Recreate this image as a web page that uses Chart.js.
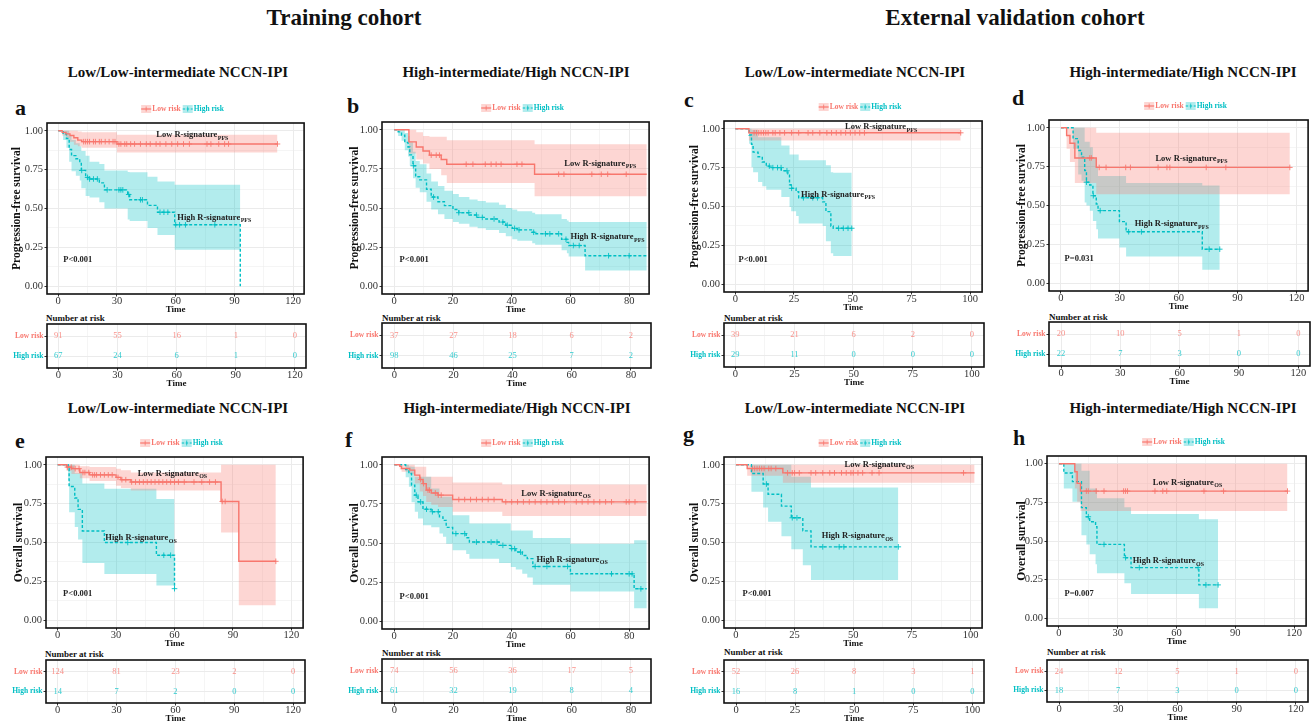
<!DOCTYPE html>
<html>
<head>
<meta charset="utf-8">
<title>Kaplan-Meier curves by R-signature</title>
<script src="https://cdn.jsdelivr.net/npm/chart.js@4.4.1/dist/chart.umd.min.js"></script>
<style>
  html, body { margin: 0; padding: 0; background: #fff; }
  body { position: relative; width: 1314px; height: 724px; overflow: hidden;
         font-family: "Liberation Serif", "Times New Roman", serif; }
  .txt { position: absolute; font-weight: bold; color: #111; white-space: nowrap; line-height: 1; }
  canvas { position: absolute; }
</style>
</head>
<body>
<script>
// ---- tick labels ----
const ticks120 = [0, 30, 60, 90, 120];
const ticks80 = [0, 20, 40, 60, 80];
const ticks100 = [0, 25, 50, 75, 100];
const yTicks = [0, 0.25, 0.5, 0.75, 1];
const riskRows = ["Low risk", "High risk"];

// ---- panel a (training, low NCCN-IPI, PFS) ----
const aLowT = [0, 2, 4, 6, 8, 10, 12, 30, 112];
const aLowS = [1, 0.99, 0.98, 0.97, 0.955, 0.94, 0.93, 0.915, 0.915];
const aLowHi = [1, 1, 1, 1, 1, 0.995, 0.99, 0.975, 0.975];
const aLowLo = [1, 0.97, 0.95, 0.93, 0.91, 0.9, 0.89, 0.86, 0.86];
const aLowC = [13, 14, 15, 16, 18, 19, 21, 22, 24, 26, 28, 29, 31, 32, 34, 35, 37, 39, 42, 45, 47, 50, 52, 55, 58, 61, 64, 67, 76, 78, 82, 85, 87, 112];
const aHighT = [0, 2.5, 4.2, 5.6, 6.8, 9, 11, 11.8, 14, 16, 21, 23.6, 35.5, 36.5, 45.6, 50.7, 59.5, 93];
const aHighS = [1, 0.98, 0.95, 0.88, 0.84, 0.82, 0.79, 0.745, 0.70, 0.69, 0.665, 0.62, 0.59, 0.556, 0.52, 0.476, 0.395, 0];
const aHighHi = [1, 1, 1, 0.97, 0.94, 0.92, 0.9, 0.87, 0.84, 0.8, 0.786, 0.745, 0.735, 0.733, 0.705, 0.673, 0.652, 0.652];
const aHighLo = [1, 0.94, 0.89, 0.8, 0.74, 0.71, 0.68, 0.63, 0.58, 0.57, 0.54, 0.5, 0.43, 0.42, 0.375, 0.33, 0.235, 0.235];
const aHighC = [12, 15, 16, 18, 20, 25, 31, 32, 33, 36, 42, 43, 52, 54, 56, 60, 62, 65, 80];
const aRiskLow = [91, 55, 16, 1, 0];
const aRiskHigh = [67, 24, 6, 1, 0];

// ---- panel b (training, high NCCN-IPI, PFS) ----
const bLowT = [0, 5, 7.5, 9.8, 12, 16, 17.9, 47.8, 86];
const bLowS = [1, 0.923, 0.89, 0.865, 0.838, 0.81, 0.78, 0.716, 0.716];
const bLowHi = [1, 1, 0.985, 0.96, 0.955, 0.955, 0.934, 0.908, 0.908];
const bLowLo = [1, 0.848, 0.81, 0.784, 0.75, 0.71, 0.66, 0.575, 0.575];
const bLowC = [12.6, 14.3, 15.4, 24.5, 26.8, 31, 33, 34.7, 36.4, 41.8, 43.5, 56, 57.8, 67.3, 70.5, 72.7, 79];
const bHighT = [0, 1.35, 2.5, 3.6, 4.7, 5.3, 6.4, 7.3, 8.7, 11, 12.6, 14.9, 17.1, 20, 22, 25.6, 28.4, 31.2, 35.7, 38, 40.2, 41.9, 47, 48, 57, 58.8, 59.4, 65, 86];
const bHighS = [1, 0.987, 0.966, 0.92, 0.89, 0.84, 0.77, 0.70, 0.68, 0.62, 0.57, 0.54, 0.515, 0.49, 0.47, 0.455, 0.44, 0.43, 0.41, 0.39, 0.37, 0.36, 0.345, 0.335, 0.30, 0.28, 0.26, 0.195, 0.195];
const bHighHi = [1, 1, 1, 0.98, 0.96, 0.92, 0.86, 0.8, 0.78, 0.72, 0.67, 0.64, 0.61, 0.59, 0.57, 0.555, 0.545, 0.535, 0.52, 0.5, 0.49, 0.48, 0.47, 0.46, 0.43, 0.42, 0.41, 0.41, 0.41];
const bHighLo = [1, 0.96, 0.93, 0.87, 0.83, 0.77, 0.69, 0.63, 0.6, 0.54, 0.49, 0.46, 0.43, 0.41, 0.4, 0.38, 0.37, 0.36, 0.34, 0.32, 0.3, 0.29, 0.275, 0.265, 0.23, 0.21, 0.19, 0.1, 0.1];
const bHighC = [6.5, 13.4, 22, 25.4, 28, 30, 34, 37, 38.5, 41, 42.5, 47.5, 51.5, 53, 56, 58.5, 61, 63, 73, 80];
const bRiskLow = [37, 27, 18, 6, 2];
const bRiskHigh = [98, 46, 25, 7, 2];

// ---- panel c (validation, low NCCN-IPI, PFS) ----
const cLowT = [0, 5.8, 96];
const cLowS = [1, 0.974, 0.974];
const cLowHi = [1, 1, 1];
const cLowLo = [1, 0.925, 0.925];
const cLowC = [8, 9, 10, 11, 12, 13, 14, 16, 17, 19, 21, 24, 27, 31, 33, 36, 39, 41, 43, 45, 47, 49, 51, 53, 55, 96];
const cHighT = [0, 5.9, 6.9, 7.6, 9.7, 11.5, 13.2, 14.6, 19.6, 22.4, 23.1, 23.8, 25.9, 27, 37.2, 38.6, 40.7, 41.7, 49.6];
const cHighS = [1, 0.96, 0.9, 0.85, 0.82, 0.786, 0.76, 0.75, 0.73, 0.71, 0.64, 0.617, 0.595, 0.556, 0.53, 0.467, 0.375, 0.36, 0.36];
const cHighHi = [1, 1, 0.994, 0.994, 0.946, 0.946, 0.946, 0.946, 0.893, 0.893, 0.834, 0.834, 0.834, 0.797, 0.797, 0.765, 0.72, 0.717, 0.717];
const cHighLo = [1, 0.904, 0.752, 0.72, 0.657, 0.63, 0.608, 0.608, 0.561, 0.561, 0.497, 0.47, 0.439, 0.39, 0.375, 0.276, 0.2, 0.182, 0.182];
const cHighC = [14.5, 16, 18, 19.5, 22, 24, 29, 33, 35, 44, 46, 48, 49.6];
const cRiskLow = [39, 21, 6, 2, 0];
const cRiskHigh = [29, 11, 0, 0, 0];

// ---- panel d (validation, high NCCN-IPI, PFS) ----
const dLowT = [0, 2.9, 4.6, 7.1, 18, 116.6];
const dLowS = [1, 0.95, 0.9, 0.806, 0.745, 0.745];
const dLowHi = [1, 1, 1, 1, 0.968, 0.968];
const dLowLo = [1, 0.865, 0.78, 0.645, 0.572, 0.572];
const dLowC = [14.7, 15.5, 19.5, 23, 33, 35.4, 49.5, 54, 55.5, 74, 84, 116.6];
const dHighT = [0, 6.2, 8.8, 10.5, 12.1, 13, 14.7, 16.3, 18, 18.9, 29.8, 33.2, 72, 80.9];
const dHighS = [1, 0.93, 0.854, 0.81, 0.725, 0.65, 0.632, 0.563, 0.51, 0.467, 0.396, 0.331, 0.219, 0.219];
const dHighHi = [1, 1, 1, 1, 0.91, 0.91, 0.875, 0.8, 0.75, 0.69, 0.69, 0.645, 0.628, 0.628];
const dHighLo = [1, 0.865, 0.7, 0.66, 0.52, 0.5, 0.467, 0.4, 0.348, 0.288, 0.23, 0.172, 0.086, 0.086];
const dHighC = [13, 16.5, 20, 34.5, 41, 75.5, 80.9];
const dRiskLow = [20, 10, 5, 1, 0];
const dRiskHigh = [22, 7, 3, 0, 0];

// ---- panel e (training, low NCCN-IPI, OS) ----
const eLowT = [0, 4.6, 7.1, 11.4, 16.4, 30, 32.5, 37.6, 83.9, 93, 112];
const eLowS = [1, 0.985, 0.975, 0.95, 0.935, 0.919, 0.904, 0.889, 0.764, 0.379, 0.379];
const eLowHi = [1, 1, 1, 0.99, 0.985, 0.975, 0.965, 0.95, 1, 1, 1];
const eLowLo = [1, 0.96, 0.94, 0.914, 0.895, 0.865, 0.85, 0.835, 0.565, 0.096, 0.096];
const eLowC = [5, 7, 9, 11, 13, 14, 16, 18, 19, 20, 22, 24, 26, 28, 31, 33, 35, 38, 40, 42, 44, 46, 48, 50, 52, 54, 56, 58, 60, 62, 65, 70, 74, 78, 81, 84.5, 86, 112];
const eHighT = [0, 5.4, 5.9, 8.8, 10.5, 12.7, 24, 50.7, 60];
const eHighS = [1, 0.974, 0.86, 0.786, 0.713, 0.574, 0.5, 0.418, 0.203];
const eHighHi = [1, 1, 1, 0.946, 0.946, 0.88, 0.845, 0.78, 0.78];
const eHighLo = [1, 0.9, 0.694, 0.6, 0.52, 0.368, 0.298, 0.223, 0.223];
const eHighC = [36, 54.5, 58, 60];
const eRiskLow = [124, 81, 23, 2, 0];
const eRiskHigh = [14, 7, 2, 0, 0];

// ---- panel f (training, high NCCN-IPI, OS) ----
const fLowT = [0, 1.9, 2.5, 5.3, 7, 8.7, 9.8, 10.9, 12.6, 14.9, 19.9, 36.8, 86];
const fLowS = [1, 0.99, 0.976, 0.966, 0.934, 0.906, 0.88, 0.838, 0.82, 0.806, 0.778, 0.763, 0.763];
const fLowHi = [1, 1, 1, 1, 0.987, 0.987, 0.987, 0.923, 0.923, 0.923, 0.887, 0.874, 0.874];
const fLowLo = [1, 0.97, 0.955, 0.94, 0.88, 0.83, 0.8, 0.763, 0.745, 0.73, 0.7, 0.673, 0.673];
const fLowC = [9, 10, 11.5, 12, 14, 15, 16, 22, 24, 26, 28, 30, 32, 34, 38, 40, 42, 44, 46, 48, 50, 52, 54, 56, 58, 62, 64, 66, 68, 70, 72, 74, 79, 80, 82];
const fHighT = [0, 3.9, 5, 5.9, 7, 8.1, 9.8, 12.6, 15.4, 16.6, 17.7, 19.9, 24.5, 25.6, 35.7, 39.7, 41.4, 43.6, 45.3, 47.2, 60, 81.7, 86];
const fHighS = [1, 0.97, 0.944, 0.87, 0.806, 0.763, 0.716, 0.7, 0.667, 0.645, 0.6, 0.56, 0.534, 0.506, 0.485, 0.464, 0.442, 0.42, 0.4, 0.35, 0.303, 0.207, 0.207];
const fHighHi = [1, 1, 0.99, 0.987, 0.923, 0.923, 0.923, 0.848, 0.795, 0.795, 0.795, 0.677, 0.677, 0.624, 0.624, 0.58, 0.58, 0.58, 0.58, 0.532, 0.496, 0.517, 0.517];
const fHighLo = [1, 0.92, 0.86, 0.76, 0.7, 0.656, 0.613, 0.6, 0.56, 0.54, 0.496, 0.453, 0.43, 0.4, 0.372, 0.346, 0.33, 0.303, 0.28, 0.233, 0.19, 0.083, 0.083];
const fHighC = [7.5, 9, 11, 13, 15, 21, 24, 28, 33, 35, 37, 40, 41, 43, 48, 52, 59, 74, 80, 81, 84];
const fRiskLow = [74, 56, 36, 17, 5];
const fRiskHigh = [61, 32, 19, 8, 4];

// ---- panel g (validation, low NCCN-IPI, OS) ----
const gLowT = [0, 4.8, 20, 101.7];
const gLowS = [1, 0.976, 0.948, 0.948];
const gLowHi = [1, 1, 1, 1];
const gLowLo = [1, 0.93, 0.885, 0.885];
const gLowC = [7, 8, 9, 10, 11, 12, 14, 15, 17, 22, 24, 25, 27, 32, 34, 37, 40, 42, 45, 47, 49, 50, 52, 54, 58, 61, 97];
const gHighT = [0, 6.6, 11.6, 13.7, 19.4, 23.6, 28.5, 32, 69.2];
const gHighS = [1, 0.944, 0.876, 0.81, 0.734, 0.659, 0.575, 0.472, 0.472];
const gHighHi = [1, 1, 1, 1, 1, 0.923, 0.923, 0.854, 0.854];
const gHighLo = [1, 0.826, 0.725, 0.633, 0.54, 0.457, 0.354, 0.258, 0.258];
const gHighC = [13, 24, 26, 37, 44, 46, 69.2];
const gRiskLow = [52, 26, 8, 3, 1];
const gRiskHigh = [16, 8, 1, 0, 0];

// ---- panel h (validation, high NCCN-IPI, OS) ----
const hLowT = [0, 8.1, 9.3, 11, 116.6];
const hLowS = [1, 0.948, 0.873, 0.823, 0.823];
const hLowHi = [1, 1, 1, 1, 1];
const hLowLo = [1, 0.84, 0.754, 0.694, 0.694];
const hLowC = [14, 15, 19, 23, 33, 34, 35, 49, 53, 55, 74, 84, 116.6];
const hHighT = [0, 2.5, 6.9, 11.5, 14, 15.7, 18.7, 19.4, 33.4, 36.8, 71.4, 81.2];
const hHighS = [1, 0.94, 0.884, 0.716, 0.657, 0.625, 0.593, 0.478, 0.392, 0.328, 0.216, 0.216];
const hHighHi = [1, 1, 1, 0.955, 0.955, 0.84, 0.84, 0.776, 0.718, 0.675, 0.64, 0.64];
const hHighLo = [1, 0.84, 0.754, 0.537, 0.478, 0.414, 0.35, 0.291, 0.226, 0.157, 0.065, 0.065];
const hHighC = [15, 23, 34, 41, 71, 75, 81.2];
const hRiskLow = [24, 12, 5, 1, 0];
const hRiskHigh = [18, 7, 3, 0, 0];

// ---- look ----
const SERIF = '"Liberation Serif", "Times New Roman", serif';
const RED = "#F8766D", TEAL = "#00BFC4";
const RED_BAND = "rgba(248,118,109,0.3)", TEAL_BAND = "rgba(0,191,196,0.3)";
const GRID = "#EBEBEB";
const PFS = "Progression-free survival", OS = "Overall survival";

const panels = [
  { cl: 6, box: [47, 123, 306, 294], xr: [-5.73, 125.6], ticks: ticks120, ylab: PFS, sub: "PFS",
    low: { t: aLowT, s: aLowS, hi: aLowHi, lo: aLowLo, c: aLowC }, high: { t: aHighT, s: aHighS, hi: aHighHi, lo: aHighLo, c: aHighC },
    lowLab: [68.4, 0.972], highLab: [79.6, 0.44], pText: "P<0.001", pPos: [10, 0.173],
    rbox: [47, 324, 306, 368], riskLow: aRiskLow, riskHigh: aRiskHigh },
  { cl: 344, box: [382, 122, 651, 293.5], xr: [-4.16, 86.8], ticks: ticks80, ylab: PFS, sub: "PFS",
    low: { t: bLowT, s: bLowS, hi: bLowHi, lo: bLowLo, c: bLowC }, high: { t: bHighT, s: bHighS, hi: bHighHi, lo: bHighLo, c: bHighC },
    lowLab: [70.1, 0.784], highLab: [72.6, 0.314], pText: "P<0.001", pPos: [6.8, 0.169],
    rbox: [382, 323, 651, 368], riskLow: bRiskLow, riskHigh: bRiskHigh },
  { cl: 684, box: [724, 120.5, 984, 291.8], xr: [-4.8, 105.1], ticks: ticks100, ylab: PFS, sub: "PFS",
    low: { t: cLowT, s: cLowS, hi: cLowHi, lo: cLowLo, c: cLowC }, high: { t: cHighT, s: cHighS, hi: cHighHi, lo: cHighLo, c: cHighC },
    lowLab: [62, 1.01], highLab: [43.7, 0.576], pText: "P<0.001", pPos: [7.6, 0.16],
    rbox: [724, 323, 984, 367], riskLow: cRiskLow, riskHigh: cRiskHigh },
  { cl: 1011, box: [1049, 119.5, 1310, 290], xr: [-6.07, 125.9], ticks: ticks120, ylab: PFS, sub: "PFS",
    low: { t: dLowT, s: dLowS, hi: dLowHi, lo: dLowLo, c: dLowC }, high: { t: dHighT, s: dHighS, hi: dHighHi, lo: dHighLo, c: dHighC },
    lowLab: [66.4, 0.8], highLab: [56.3, 0.381], pText: "P=0.031", pPos: [9.3, 0.155],
    rbox: [1049, 322, 1310, 366], riskLow: dRiskLow, riskHigh: dRiskHigh },
  { cl: 8, box: [46, 457.2, 305, 628.5], xr: [-5.96, 126], ticks: ticks120, ylab: OS, sub: "OS",
    low: { t: eLowT, s: eLowS, hi: eLowHi, lo: eLowLo, c: eLowC }, high: { t: eHighT, s: eHighS, hi: eHighHi, lo: eHighLo, c: eHighC },
    lowLab: [58.8, 0.942], highLab: [42.7, 0.529], pText: "P<0.001", pPos: [10.3, 0.169],
    rbox: [46, 660, 305, 703], riskLow: eRiskLow, riskHigh: eRiskHigh },
  { cl: 344, box: [382, 456.9, 651, 628.5], xr: [-4.16, 86.8], ticks: ticks80, ylab: OS, sub: "OS",
    low: { t: fLowT, s: fLowS, hi: fLowHi, lo: fLowLo, c: fLowC }, high: { t: fHighT, s: fHighS, hi: fHighHi, lo: fHighLo, c: fHighC },
    lowLab: [55, 0.816], highLab: [60.5, 0.393], pText: "P<0.001", pPos: [6.8, 0.154],
    rbox: [382, 659, 651, 703], riskLow: fRiskLow, riskHigh: fRiskHigh },
  { cl: 684, box: [724, 456.9, 984, 627.8], xr: [-5.08, 104.9], ticks: ticks100, ylab: OS, sub: "OS",
    low: { t: gLowT, s: gLowS, hi: gLowHi, lo: gLowLo, c: gLowC }, high: { t: gHighT, s: gHighS, hi: gHighHi, lo: gHighLo, c: gHighC },
    lowLab: [61, 1.002], highLab: [51.7, 0.541], pText: "P<0.001", pPos: [9, 0.167],
    rbox: [724, 660, 984, 703], riskLow: gRiskLow, riskHigh: gRiskHigh },
  { cl: 1011, box: [1047, 456, 1308, 626], xr: [-6.08, 126.1], ticks: ticks120, ylab: OS, sub: "OS",
    low: { t: hLowT, s: hLowS, hi: hLowHi, lo: hLowLo, c: hLowC }, high: { t: hHighT, s: hHighS, hi: hHighHi, lo: hHighLo, c: hHighC },
    lowLab: [65.5, 0.879], highLab: [55.7, 0.37], pText: "P=0.007", pPos: [10.3, 0.159],
    rbox: [1047, 660, 1308, 702], riskLow: hRiskLow, riskHigh: hRiskHigh },
];

// ---- helpers ----
function withMinor(major) {
  const out = [];
  major.forEach((v, i) => { out.push(v); if (i < major.length - 1) out.push((v + major[i + 1]) / 2); });
  return out;
}
function pts(times, vals) { return times.map((t, i) => ({ x: t, y: vals[i] })); }
function survAt(t, times, surv) {
  let v = surv[0];
  times.forEach((tt, i) => { if (tt <= t) v = surv[i]; });
  return v;
}
function addText(txt, x, y, size, align) {
  const d = document.createElement("div");
  d.className = "txt";
  d.textContent = txt;
  d.style.fontSize = size + "px";
  d.style.top = (y - size / 2) + "px";
  if (align === "center") { d.style.left = (x - 300) + "px"; d.style.width = "600px"; d.style.textAlign = "center"; }
  else d.style.left = x + "px";
  document.body.appendChild(d);
}
function addCanvas(left, top, w, h) {
  const cv = document.createElement("canvas");
  cv.width = w; cv.height = h;
  cv.style.left = left + "px"; cv.style.top = top + "px";
  cv.style.width = w + "px"; cv.style.height = h + "px";
  document.body.appendChild(cv);
  return cv;
}

function xScale(p, xh) {
  const grid = withMinor(p.ticks);
  const major = (v) => p.ticks.includes(v);
  return {
    type: "linear", min: p.xr[0], max: p.xr[1],
    afterBuildTicks: (s) => { s.ticks = grid.map((v) => ({ value: v })); },
    afterFit: (s) => { s.height = xh; },
    ticks: { autoSkip: false, maxRotation: 0, padding: -1, color: "#333",
             font: { family: SERIF, size: 10.5, lineHeight: 1 },
             callback: (v) => (major(v) ? String(v) : "") },
    grid: { color: GRID, lineWidth: (c) => (c.tick && major(c.tick.value) ? 1 : 0.5), tickLength: 2.5,
            tickColor: (c) => (c.tick && major(c.tick.value) ? "#333" : "rgba(0,0,0,0)") },
    border: { display: false },
    title: { display: true, text: "Time", color: "#111", padding: { top: 0, bottom: 0 },
             font: { family: SERIF, size: 9, weight: "bold" } },
  };
}

function boxPlugin() {
  return {
    id: "frame",
    afterDraw(chart) {
      const { ctx, chartArea: a } = chart;
      ctx.save();
      ctx.strokeStyle = "#111";
      ctx.lineWidth = 1.6;
      ctx.strokeRect(a.left, a.top, a.right - a.left, a.bottom - a.top);
      ctx.restore();
    },
  };
}

function drawSig(ctx, main, sub, cx, cy) {
  ctx.font = "bold 8.5px " + SERIF;
  const w1 = ctx.measureText(main).width;
  ctx.font = "bold 6px " + SERIF;
  const w2 = ctx.measureText(sub).width;
  const x0 = cx - (w1 + w2) / 2;
  ctx.fillStyle = "#222";
  ctx.textAlign = "left";
  ctx.textBaseline = "middle";
  ctx.font = "bold 8.5px " + SERIF;
  ctx.fillText(main, x0, cy);
  ctx.font = "bold 6px " + SERIF;
  ctx.fillText(sub, x0 + w1 + 0.5, cy + 3);
}

function drawLegend(ctx, cx, cy) {
  const items = [["Low risk", RED, RED_BAND, []], ["High risk", TEAL, TEAL_BAND, [2.5, 1.5]]];
  ctx.font = "bold 7.5px " + SERIF;
  const kw = 10, gap = 1;
  const widths = items.map((it) => ctx.measureText(it[0]).width);
  const total = items.length * (kw + gap) + widths[0] + widths[1] + 2;
  let x = cx - total / 2;
  items.forEach((it, i) => {
    ctx.fillStyle = it[2];
    ctx.fillRect(x, cy - 4, kw, 8);
    ctx.strokeStyle = it[1];
    ctx.lineWidth = 1.2;
    ctx.setLineDash(it[3]);
    ctx.beginPath(); ctx.moveTo(x, cy); ctx.lineTo(x + kw, cy); ctx.stroke();
    ctx.setLineDash([]);
    ctx.lineWidth = 0.8;
    ctx.beginPath(); ctx.moveTo(x + kw / 2, cy - 2.5); ctx.lineTo(x + kw / 2, cy + 2.5); ctx.stroke();
    x += kw + gap;
    ctx.fillStyle = it[1];
    ctx.textAlign = "left";
    ctx.textBaseline = "middle";
    ctx.fillText(it[0], x, cy);
    x += widths[i] + 2;
  });
}

// ---- survival chart ----
function survChart(p) {
  const [bl, bt, br, bb] = p.box;
  const TOP = 26, XH = 21, RP = 3;
  const left = p.cl, top = bt - TOP;
  const cv = addCanvas(left, top, Math.round(br + RP - left), Math.round(bb + XH - top));
  const yGrid = withMinor(yTicks);
  const yMajor = (v) => yTicks.includes(v);

  const datasets = [];
  [[p.low, RED_BAND], [p.high, TEAL_BAND]].forEach(([g, band]) => {
    datasets.push({ data: pts(g.t, g.hi), stepped: "before", borderWidth: 0, borderColor: "transparent",
                    pointRadius: 0, fill: false, order: 5 });
    datasets.push({ data: pts(g.t, g.lo), stepped: "before", borderWidth: 0, borderColor: "transparent",
                    pointRadius: 0, fill: "-1", backgroundColor: band, order: 5 });
  });
  [[p.low, RED, []], [p.high, TEAL, [3, 2]]].forEach(([g, col, dash]) => {
    datasets.push({ data: pts(g.t, g.s), stepped: "before", borderColor: col, borderWidth: 1.4,
                    borderDash: dash, pointRadius: 0, fill: false, order: 2 });
  });
  [[p.low, RED], [p.high, TEAL]].forEach(([g, col]) => {
    datasets.push({ data: g.c.map((t) => ({ x: t, y: survAt(t, g.t, g.s) })), showLine: false,
                    pointStyle: "cross", pointRadius: 2.8, pointBorderWidth: 0.9,
                    pointBorderColor: col, borderColor: col, order: 1 });
  });

  new Chart(cv, {
    type: "line",
    data: { datasets },
    options: {
      responsive: false, animation: false, devicePixelRatio: 1, events: [],
      layout: { padding: { left: 0, top: TOP, right: RP, bottom: 0 } },
      plugins: { legend: { display: false }, tooltip: { enabled: false } },
      scales: {
        x: xScale(p, XH),
        y: {
          type: "linear", min: -0.05, max: 1.05,
          afterBuildTicks: (s) => { s.ticks = yGrid.map((v) => ({ value: v })); },
          afterFit: (s) => { s.width = bl - left; },
          ticks: { padding: 1.5, color: "#333", font: { family: SERIF, size: 10.5 },
                   callback: (v) => (yMajor(v) ? v.toFixed(2) : "") },
          grid: { color: GRID, lineWidth: (c) => (c.tick && yMajor(c.tick.value) ? 1 : 0.5), tickLength: 2.5,
                  tickColor: (c) => (c.tick && yMajor(c.tick.value) ? "#333" : "rgba(0,0,0,0)") },
          border: { display: false },
          title: { display: true, text: p.ylab, color: "#111", padding: { top: 4, bottom: 0 },
                   font: { family: SERIF, size: 11.5, weight: "bold" } },
        },
      },
    },
    plugins: [boxPlugin(), {
      id: "annot",
      afterDraw(chart) {
        const { ctx, chartArea: a, scales: { x, y } } = chart;
        ctx.save();
        drawSig(ctx, "Low R-signature", p.sub, x.getPixelForValue(p.lowLab[0]), y.getPixelForValue(p.lowLab[1]));
        drawSig(ctx, "High R-signature", p.sub, x.getPixelForValue(p.highLab[0]), y.getPixelForValue(p.highLab[1]));
        ctx.font = "bold 8.5px " + SERIF;
        ctx.fillStyle = "#222";
        ctx.textAlign = "center";
        ctx.textBaseline = "middle";
        ctx.fillText(p.pText, x.getPixelForValue(p.pPos[0]), y.getPixelForValue(p.pPos[1]));
        drawLegend(ctx, (a.left + a.right) / 2 + 7, a.top - 14);
        ctx.restore();
      },
    }],
  });
}

// ---- number-at-risk table ----
function riskChart(p) {
  const [bl, bt, br, bb] = p.rbox;
  const TOP = 9, XH = 21, RP = 3, LW = 44;
  const left = bl - LW, top = bt - TOP;
  const cv = addCanvas(left, top, Math.round(br + RP - left), Math.round(bb + XH - top));
  const rowColors = [RED, TEAL];
  new Chart(cv, {
    type: "line",
    data: {
      datasets: [
        { data: p.ticks.map((t) => ({ x: t, y: 1 })), counts: p.riskLow, textColor: "rgba(248,118,109,0.8)", showLine: false, pointRadius: 0 },
        { data: p.ticks.map((t) => ({ x: t, y: 2 })), counts: p.riskHigh, textColor: "rgba(0,191,196,0.8)", showLine: false, pointRadius: 0 },
      ],
    },
    options: {
      responsive: false, animation: false, devicePixelRatio: 1, events: [],
      layout: { padding: { left: 0, top: TOP, right: RP, bottom: 0 } },
      plugins: { legend: { display: false }, tooltip: { enabled: false } },
      scales: {
        x: xScale(p, XH),
        y: {
          type: "linear", min: 0.4, max: 2.6, reverse: true,
          afterBuildTicks: (s) => { s.ticks = [{ value: 1 }, { value: 2 }]; },
          afterFit: (s) => { s.width = LW; },
          ticks: { padding: 1, color: (c) => rowColors[c.index], font: { family: SERIF, size: 7.5, weight: "bold" },
                   callback: (v) => riskRows[v - 1] },
          grid: { color: GRID, lineWidth: 1, tickLength: 2.5, tickColor: "#333" },
          border: { display: false },
        },
      },
    },
    plugins: [boxPlugin(), {
      id: "counts",
      afterDatasetsDraw(chart) {
        const { ctx } = chart;
        ctx.save();
        ctx.font = "8.5px " + SERIF;
        ctx.textAlign = "center";
        ctx.textBaseline = "middle";
        chart.data.datasets.forEach((ds, di) => {
          ctx.fillStyle = ds.textColor;
          chart.getDatasetMeta(di).data.forEach((pt, i) => ctx.fillText(String(ds.counts[i]), pt.x, pt.y));
        });
        ctx.restore();
      },
    }],
  });
}

// ---- headings ----
addText("Training cohort", 344, 17, 23, "center");
addText("External validation cohort", 1015, 17, 23, "center");
const subLow = "Low/Low-intermediate NCCN-IPI", subHigh = "High-intermediate/High NCCN-IPI";
[[subLow, 178, 72], [subHigh, 516, 72], [subLow, 855, 72], [subHigh, 1183, 72],
 [subLow, 178, 408], [subHigh, 517, 408], [subLow, 855, 408], [subHigh, 1183, 408]]
  .forEach(([t, x, y]) => addText(t, x, y, 15, "center"));

// panel letters: [letter, left, baseline]
[["a", 15, 115], ["b", 347, 113], ["c", 684, 107], ["d", 1012, 105],
 ["e", 15, 448], ["f", 345, 447], ["g", 683, 441], ["h", 1013, 445]]
  .forEach(([t, x, base]) => {
    const d = document.createElement("div");
    d.className = "txt";
    d.textContent = t;
    d.style.fontSize = "22px";
    d.style.left = x + "px";
    d.style.top = (base - 18.4) + "px";
    document.body.appendChild(d);
  });

// "Number at risk" captions: [left, centre y]
[[46, 318.5], [382, 318.5], [724, 318.5], [1049, 317], [45, 654], [382, 653], [724, 652.5], [1047, 652.5]]
  .forEach(([x, y]) => addText("Number at risk", x, y, 9, "left"));

panels.forEach((p) => { survChart(p); riskChart(p); });
</script>
</body>
</html>
